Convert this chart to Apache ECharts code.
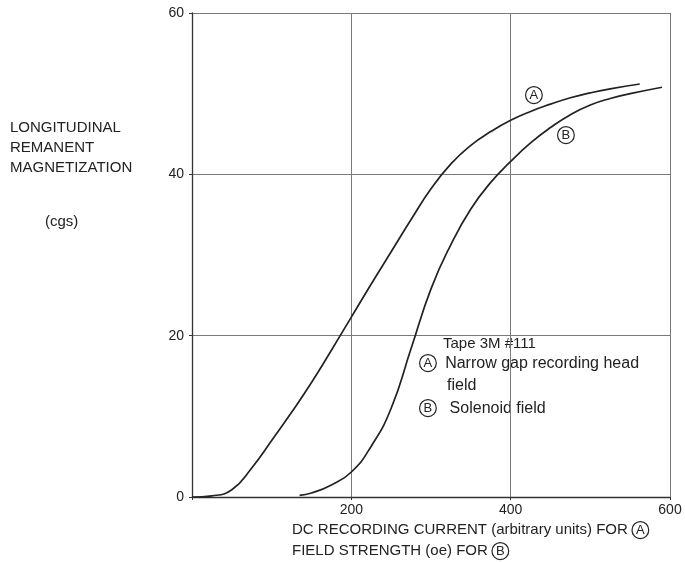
<!DOCTYPE html>
<html><head><meta charset="utf-8">
<script src="https://cdn.jsdelivr.net/npm/echarts@6/dist/echarts.min.js"></script>
<style>html,body{margin:0;padding:0;background:#fff}#c{width:685px;height:562px}</style>
</head><body><div id="c"></div>
<script>
// Curve A: DC recording current (arbitrary units) vs magnetization
const aX = [0, 25, 50, 75, 100, 125, 150, 175, 200, 225, 250, 275, 300, 325, 350, 375, 400, 425, 450, 475, 500, 525, 562];
const aY = [0, 0.15, 0.9, 3.6, 7.0, 10.5, 14.2, 18.2, 22.3, 26.4, 30.4, 34.4, 38.2, 41.3, 43.6, 45.3, 46.7, 47.8, 48.7, 49.5, 50.1, 50.6, 51.2];
// Curve B: field strength (oe) vs magnetization
const bX = [135, 150, 175, 200, 225, 250, 275, 300, 325, 350, 375, 400, 425, 450, 475, 500, 525, 550, 590];
const bY = [0.2, 0.5, 1.5, 3.1, 6.3, 11.0, 18.4, 25.8, 31.3, 35.7, 39.0, 41.6, 43.9, 45.8, 47.4, 48.6, 49.4, 50.0, 50.8];
const xTicks = [0, 200, 400, 600];
const yTicks = [0, 20, 40, 60];

const FONT = '"Liberation Sans","DejaVu Sans",sans-serif';
const INK = '#222';
const circ = {borderColor: INK, borderWidth: 1.2, borderRadius: 9, lineHeight: 13, fontSize: 13,
  fontFamily: FONT, color: INK, padding: [2, 4, 2, 4]};

function txt(left, top, text, size, extra) {
  return {type: 'text', left: left, top: top, style: Object.assign({text: text,
    font: size + 'px ' + FONT, fill: INK, lineHeight: 17, rich: {c: circ}}, extra || {})};
}

const chart = echarts.init(document.getElementById('c'));
chart.setOption({
  backgroundColor: '#fff',
  animation: false,
  grid: {left: 192, right: 15, top: 13, bottom: 65},
  xAxis: {
    type: 'value', min: xTicks[0], max: xTicks[xTicks.length - 1], interval: 200,
    axisLine: {lineStyle: {color: '#333', width: 1.3}},
    axisTick: {show: true, length: 3, lineStyle: {color: '#333'}},
    splitLine: {show: true, lineStyle: {color: '#7a7a7a', width: 1}},
    axisLabel: {color: INK, fontSize: 14, fontFamily: FONT, margin: 6,
      formatter: v => v === 0 ? '' : String(v)}
  },
  yAxis: {
    type: 'value', min: yTicks[0], max: yTicks[yTicks.length - 1], interval: 20,
    axisLine: {show: true, lineStyle: {color: '#333', width: 1.3}},
    axisTick: {show: true, length: 3, lineStyle: {color: '#333'}},
    splitLine: {show: true, lineStyle: {color: '#7a7a7a', width: 1}},
    axisLabel: {color: INK, fontSize: 14, fontFamily: FONT, margin: 8}
  },
  series: [
    {type: 'line', data: aX.map((x, i) => [x, aY[i]]), smooth: 0.5, showSymbol: false,
     lineStyle: {color: INK, width: 1.7}},
    {type: 'line', data: bX.map((x, i) => [x, bY[i]]), smooth: 0.5, showSymbol: false,
     lineStyle: {color: INK, width: 1.7}}
  ],
  graphic: [
    txt(10, 118, 'LONGITUDINAL\nREMANENT\nMAGNETIZATION', 15, {lineHeight: 20}),
    txt(45, 212, '(cgs)', 15, {lineHeight: 20}),
    txt(292, 521, 'DC RECORDING CURRENT (arbitrary units) FOR {c|A}', 15, {lineHeight: 18}),
    txt(292, 542, 'FIELD STRENGTH (oe) FOR {c|B}', 15, {lineHeight: 18}),
    txt(443, 335, 'Tape 3M #111', 15),
    txt(419, 354, '{c|A}  Narrow gap recording head', 16),
    txt(447, 377, 'field', 16),
    txt(419, 399, '{c|B}   Solenoid field', 16),
    txt(525, 86, '{c|A}', 12),
    txt(557, 126, '{c|B}', 12)
  ]
});
</script></body></html>
